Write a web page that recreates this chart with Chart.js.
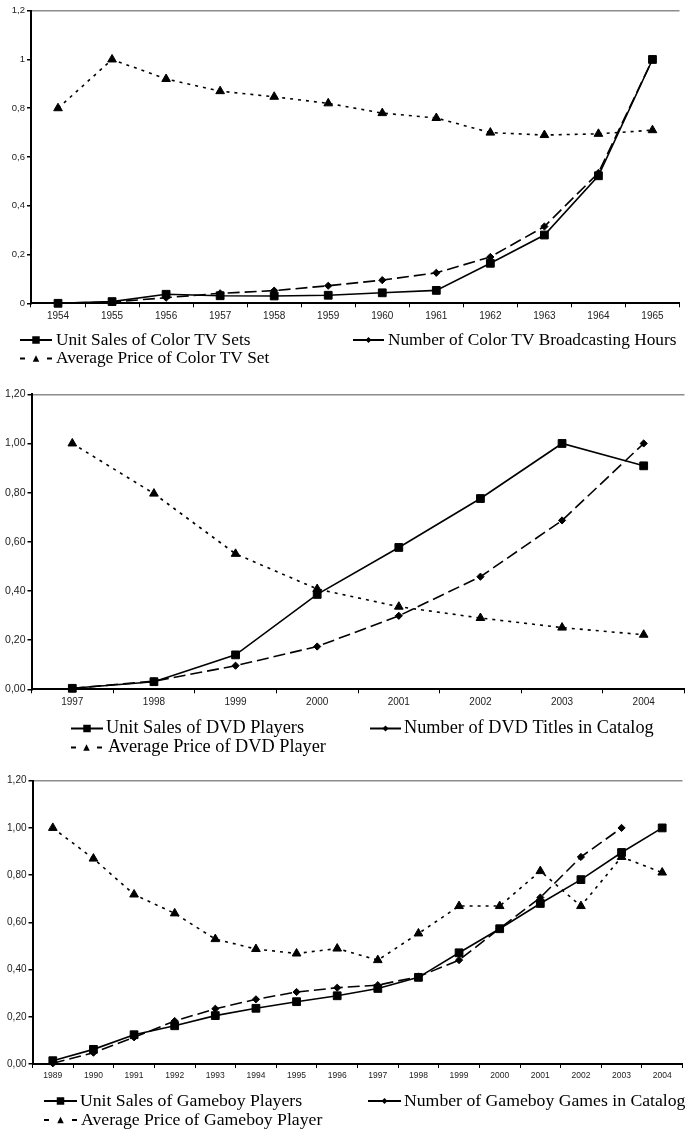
<!DOCTYPE html>
<html>
<head>
<meta charset="utf-8">
<script src="https://cdn.jsdelivr.net/npm/chart.js@4/dist/chart.umd.min.js"></script>
<style>
  html, body { margin: 0; padding: 0; background: #fff; width: 685px; height: 1130px; overflow: hidden; position: relative; }
  canvas { position: absolute; left: 0; display: block; }
</style>
</head>
<body>
<canvas id="c1" width="686" height="380" style="top:0px"></canvas>
<canvas id="c2" width="691" height="385" style="top:380px"></canvas>
<canvas id="c3" width="689" height="365" style="top:765px"></canvas>
<script>
// ---------- DATA ----------
const yearsTV = ['1954','1955','1956','1957','1958','1959','1960','1961','1962','1963','1964','1965'];
const salesTV = [0, 0.007, 0.037, 0.031, 0.030, 0.033, 0.043, 0.053, 0.164, 0.280, 0.523, 1.0];
const hoursTV = [0, 0.005, 0.023, 0.041, 0.052, 0.072, 0.095, 0.125, 0.190, 0.315, 0.535, 1.0];
const priceTV = [0.80, 1.00, 0.92, 0.87, 0.847, 0.82, 0.78, 0.76, 0.70, 0.69, 0.695, 0.71];
const yTicksTV = ['0', '0,2', '0,4', '0,6', '0,8', '1', '1,2'];

const yearsDVD = ['1997','1998','1999','2000','2001','2002','2003','2004'];
const salesDVD = [0.004, 0.031, 0.140, 0.386, 0.577, 0.776, 1.0, 0.909];
const titlesDVD = [0.004, 0.033, 0.096, 0.174, 0.299, 0.458, 0.687, 1.0];
const priceDVD = [1.0, 0.796, 0.551, 0.408, 0.336, 0.290, 0.251, 0.222];
const yTicksDVD = ['0,00', '0,20', '0,40', '0,60', '0,80', '1,00', '1,20'];

const yearsGB = ['1989','1990','1991','1992','1993','1994','1995','1996','1997','1998','1999','2000','2001','2002','2003','2004'];
const salesGB = [0.014, 0.062, 0.124, 0.162, 0.205, 0.236, 0.264, 0.289, 0.320, 0.367, 0.471, 0.573, 0.680, 0.781, 0.896, 1.0];
const gamesGB = [0.003, 0.048, 0.113, 0.182, 0.234, 0.274, 0.305, 0.323, 0.334, 0.370, 0.440, 0.574, 0.705, 0.877, 1.0, null];
const priceGB = [1.0, 0.870, 0.718, 0.638, 0.529, 0.487, 0.468, 0.489, 0.440, 0.553, 0.669, 0.669, 0.817, 0.669, 0.877, 0.811];
const yTicksGB = ['0,00', '0,20', '0,40', '0,60', '0,80', '1,00', '1,20'];

const labelsTV = ['Unit Sales of Color TV Sets', 'Number of Color TV Broadcasting Hours', 'Average Price of Color TV Set'];
const labelsDVD = ['Unit Sales of DVD Players', 'Number of DVD Titles in Catalog', 'Average Price of DVD Player'];
const labelsGB = ['Unit Sales of Gameboy Players', 'Number of Gameboy Games in Catalog', 'Average Price of Gameboy Player'];

// ---------- LEGEND PLUGIN ----------
function drawMarker(ctx, style, x, y, size) {
  ctx.beginPath();
  if (style === 'rect') {
    ctx.rect(x - size / 2, y - size / 2, size, size);
  } else if (style === 'rectRot') {
    ctx.moveTo(x, y - size / 2); ctx.lineTo(x + size / 2, y);
    ctx.lineTo(x, y + size / 2); ctx.lineTo(x - size / 2, y); ctx.closePath();
  } else {
    ctx.moveTo(x, y - size / 2); ctx.lineTo(x + size / 2, y + size / 2);
    ctx.lineTo(x - size / 2, y + size / 2); ctx.closePath();
  }
  ctx.fill();
}
const lineLegend = {
  id: 'lineLegend',
  afterDraw(chart, args, opts) {
    if (!opts || !opts.items) return;
    const ctx = chart.ctx;
    ctx.save();
    ctx.font = opts.fontSize + 'px "Liberation Serif", "Times New Roman", serif';
    ctx.textBaseline = 'middle';
    ctx.textAlign = 'left';
    ctx.fillStyle = '#000';
    ctx.strokeStyle = '#000';
    opts.items.forEach((it) => {
      const ds = chart.data.datasets[it.index];
      ctx.lineWidth = 2;
      ctx.setLineDash(it.dash || []);
      ctx.beginPath();
      ctx.moveTo(it.x, it.y);
      ctx.lineTo(it.x + it.len, it.y);
      ctx.stroke();
      ctx.setLineDash([]);
      drawMarker(ctx, ds.pointStyle, it.x + it.len / 2, it.y, it.marker);
      ctx.fillText(ds.label, it.x + it.len + it.gap, it.y);
    });
    ctx.restore();
  }
};

// ---------- CHART BUILDER ----------
function makeChart(id, cfg) {
  const tickFont = { family: '"Liberation Sans", Arial, sans-serif', size: cfg.yFont };
  new Chart(document.getElementById(id), {
    type: 'line',
    data: {
      labels: cfg.labels,
      datasets: [
        { label: cfg.names[0], data: cfg.series[0], borderColor: '#000', backgroundColor: '#000',
          borderWidth: 1.6, pointStyle: 'rect', pointRadius: 5.5, pointHoverRadius: 5.5,
          pointBorderWidth: 1, tension: 0, clip: false },
        { label: cfg.names[1], data: cfg.series[1], borderColor: '#000', backgroundColor: '#000',
          borderWidth: 1.6, borderDash: [12, 5], pointStyle: 'rectRot', pointRadius: 3.6, pointHoverRadius: 3.6,
          pointBorderWidth: 1, tension: 0, clip: false, spanGaps: false },
        { label: cfg.names[2], data: cfg.series[2], borderColor: '#000', backgroundColor: '#000',
          borderWidth: 1.6, borderDash: [3, 5], pointStyle: 'triangle', pointRadius: 5, pointHoverRadius: 5,
          pointBorderWidth: 1, tension: 0, clip: false }
      ]
    },
    options: {
      responsive: false,
      animation: false,
      events: [],
      layout: { padding: { top: cfg.padTop, right: 0, left: 0, bottom: 0 } },
      plugins: {
        legend: { display: false },
        tooltip: { enabled: false },
        lineLegend: { items: cfg.legend, fontSize: cfg.legendFont }
      },
      scales: {
        x: {
          type: 'category',
          offset: true,
          afterFit: (s) => { s.height = cfg.xHeight; },
          grid: { display: true, drawOnChartArea: false, drawTicks: true, tickLength: 4, offset: true,
                  color: '#000', tickColor: '#000', lineWidth: 1 },
          border: { display: true, color: '#000', width: 2 },
          ticks: { color: '#222', font: { family: tickFont.family, size: cfg.xFont }, padding: 3,
                   maxRotation: 0, autoSkip: false }
        },
        y: {
          min: 0, max: 1.2,
          afterFit: (s) => { s.width = cfg.yWidth; },
          grid: { display: true, drawOnChartArea: true, drawTicks: true, tickLength: 4,
                  color: (c) => (c.tick && Math.abs(c.tick.value - 1.2) < 1e-6) ? '#8c8c8c' : 'rgba(0,0,0,0)',
                  tickColor: '#000', lineWidth: 1.5 },
          border: { display: true, color: '#000', width: 2 },
          ticks: { stepSize: 0.2, color: '#222', font: tickFont, padding: 2,
                   callback: (v, i) => cfg.yTicks[i] }
        }
      }
    },
    plugins: [lineLegend]
  });
}

makeChart('c1', {
  labels: yearsTV, series: [salesTV, hoursTV, priceTV], names: labelsTV, yTicks: yTicksTV,
  padTop: 10.7, xHeight: 380 - 303.3, yWidth: 31, xFont: 10, yFont: 9.5, legendFont: 17.3,
  legend: [
    { index: 0, x: 20, y: 340, len: 32, gap: 4, marker: 7.5 },
    { index: 1, x: 353, y: 340, len: 31, gap: 4, marker: 6 },
    { index: 2, x: 20, y: 358.5, len: 32, gap: 4, marker: 6.5, dash: [5, 22] }
  ]
});

makeChart('c2', {
  labels: yearsDVD, series: [salesDVD, titlesDVD, priceDVD], names: labelsDVD, yTicks: yTicksDVD,
  padTop: 14.3, xHeight: 765 - 689.3, yWidth: 31.5, xFont: 10, yFont: 10.5, legendFont: 18.3,
  legend: [
    { index: 0, x: 71, y: 348.5, len: 32, gap: 3, marker: 7.5 },
    { index: 1, x: 370, y: 348.5, len: 31, gap: 3, marker: 6 },
    { index: 2, x: 71, y: 367.5, len: 31, gap: 6, marker: 6.5, dash: [5, 21] }
  ]
});

makeChart('c3', {
  labels: yearsGB, series: [salesGB, gamesGB, priceGB], names: labelsGB, yTicks: yTicksGB,
  padTop: 15.7, xHeight: 1130 - 1064, yWidth: 32.5, xFont: 8.5, yFont: 10, legendFont: 17.7,
  legend: [
    { index: 0, x: 44, y: 336, len: 33, gap: 3, marker: 7.5 },
    { index: 1, x: 368, y: 336, len: 33, gap: 3, marker: 6 },
    { index: 2, x: 44, y: 355, len: 33, gap: 4, marker: 6.5, dash: [5, 23] }
  ]
});
</script>
</body>
</html>
